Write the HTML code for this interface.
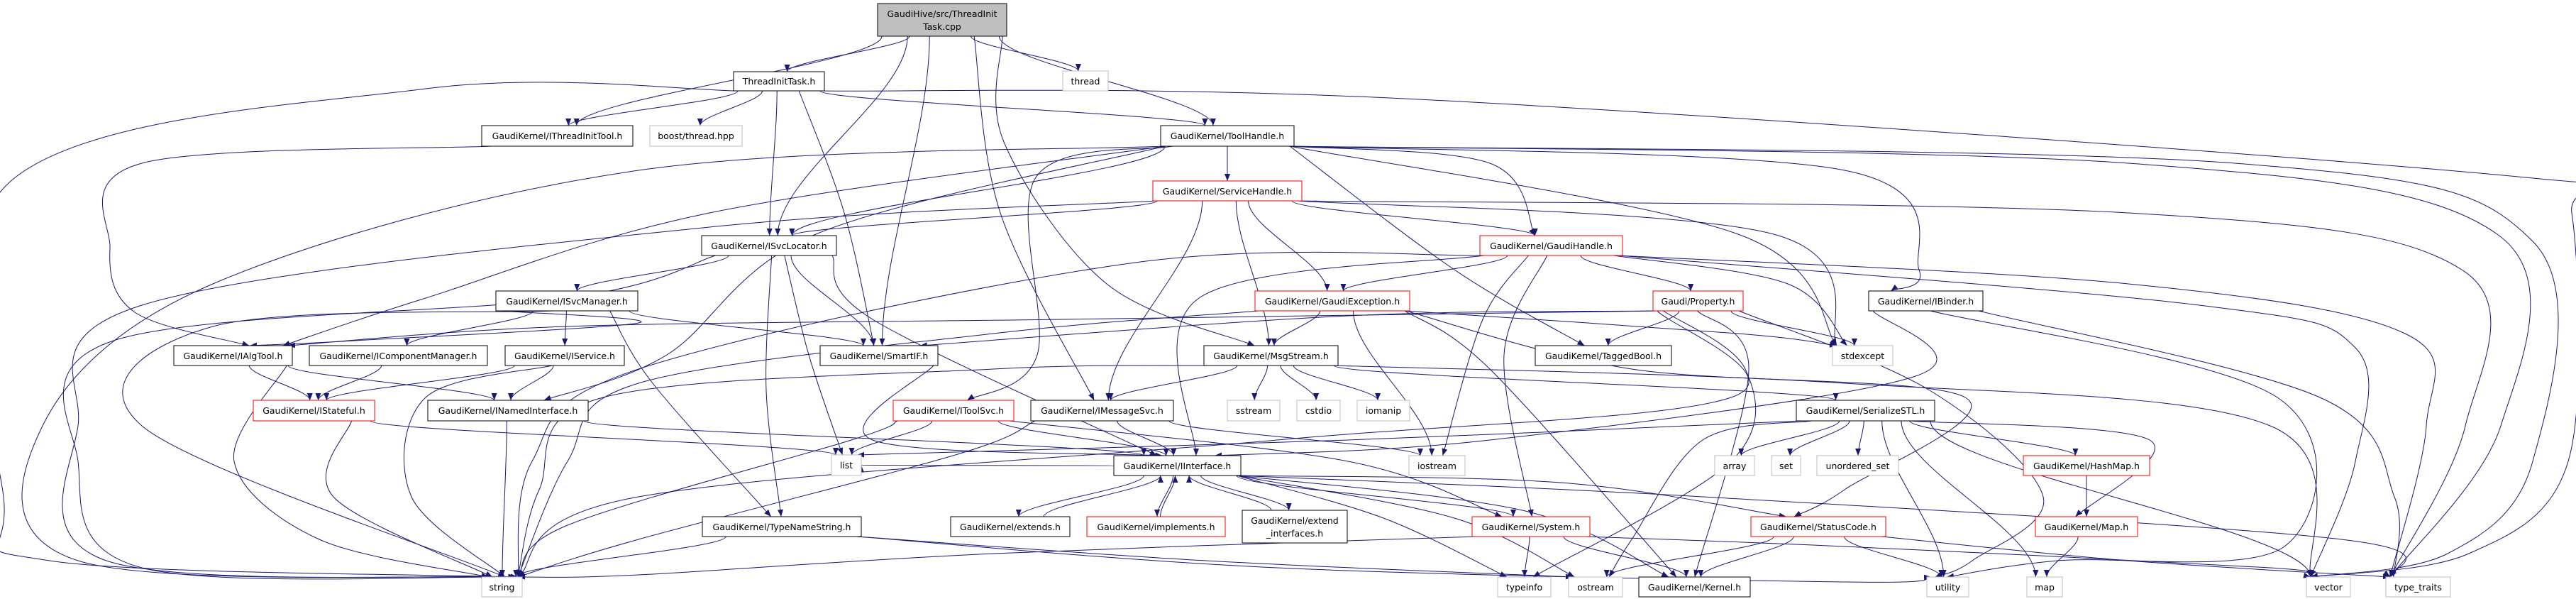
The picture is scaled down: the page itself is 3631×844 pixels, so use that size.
<!DOCTYPE html>
<html><head><meta charset="utf-8">
<style>
html,body{margin:0;padding:0;background:#fff;}
svg{display:block;}
text{font-family:"DejaVu Sans","Liberation Sans",sans-serif;font-size:12.5px;fill:#000;}
</style></head>
<body>
<svg id="g" width="3631" height="844" viewBox="0 0 3631 844" xmlns="http://www.w3.org/2000/svg">
<defs><marker id="ar" markerUnits="userSpaceOnUse" markerWidth="11" markerHeight="8" refX="10" refY="4" orient="auto"><path d="M0,0 L10,4 L0,8 z" fill="#191970"/></marker></defs>
<g id="edges" fill="none" stroke="#191970" stroke-width="1"></g>
<g id="nodes">
<rect x="1237" y="5" width="182" height="46" fill="#bfbfbf" stroke="#000"/><text x="1328" y="24" text-anchor="middle">GaudiHive/src/ThreadInit</text><text x="1328" y="42" text-anchor="middle">Task.cpp</text>
<rect x="1498" y="100" width="64" height="28" fill="#fff" stroke="#bfbfbf"/><text x="1530" y="119" text-anchor="middle">thread</text>
<rect x="1034" y="101" width="128" height="27" fill="#fff" stroke="#000"/><text x="1098" y="119" text-anchor="middle">ThreadInitTask.h</text>
<rect x="679" y="177" width="213" height="29" fill="#fff" stroke="#000"/><text x="785.5" y="196" text-anchor="middle">GaudiKernel/IThreadInitTool.h</text>
<rect x="916" y="177" width="130" height="29" fill="#fff" stroke="#bfbfbf"/><text x="981" y="196" text-anchor="middle">boost/thread.hpp</text>
<rect x="1636" y="177" width="188" height="29" fill="#fff" stroke="#000"/><text x="1730" y="196" text-anchor="middle">GaudiKernel/ToolHandle.h</text>
<rect x="1625" y="255" width="210" height="28" fill="#fff" stroke="#f00"/><text x="1730" y="274" text-anchor="middle">GaudiKernel/ServiceHandle.h</text>
<rect x="989" y="332" width="190" height="28" fill="#fff" stroke="#000"/><text x="1084" y="351" text-anchor="middle">GaudiKernel/ISvcLocator.h</text>
<rect x="2086" y="332" width="201" height="28" fill="#fff" stroke="#f00"/><text x="2186.5" y="351" text-anchor="middle">GaudiKernel/GaudiHandle.h</text>
<rect x="699" y="410" width="200" height="28" fill="#fff" stroke="#000"/><text x="799" y="429" text-anchor="middle">GaudiKernel/ISvcManager.h</text>
<rect x="1769" y="410" width="218" height="28" fill="#fff" stroke="#f00"/><text x="1878" y="429" text-anchor="middle">GaudiKernel/GaudiException.h</text>
<rect x="2330" y="410" width="127" height="28" fill="#fff" stroke="#f00"/><text x="2393.5" y="429" text-anchor="middle">Gaudi/Property.h</text>
<rect x="2634" y="410" width="161" height="28" fill="#fff" stroke="#000"/><text x="2714.5" y="429" text-anchor="middle">GaudiKernel/IBinder.h</text>
<rect x="245" y="487" width="167" height="28" fill="#fff" stroke="#000"/><text x="328.5" y="506" text-anchor="middle">GaudiKernel/IAlgTool.h</text>
<rect x="436" y="487" width="251" height="28" fill="#fff" stroke="#000"/><text x="561.5" y="506" text-anchor="middle">GaudiKernel/IComponentManager.h</text>
<rect x="712" y="487" width="168" height="28" fill="#fff" stroke="#000"/><text x="796" y="506" text-anchor="middle">GaudiKernel/IService.h</text>
<rect x="1156" y="487" width="166" height="28" fill="#fff" stroke="#000"/><text x="1239" y="506" text-anchor="middle">GaudiKernel/SmartIF.h</text>
<rect x="1697" y="487" width="189" height="28" fill="#fff" stroke="#000"/><text x="1791.5" y="506" text-anchor="middle">GaudiKernel/MsgStream.h</text>
<rect x="2164" y="487" width="192" height="28" fill="#fff" stroke="#000"/><text x="2260" y="506" text-anchor="middle">GaudiKernel/TaggedBool.h</text>
<rect x="2583" y="487" width="85" height="28" fill="#fff" stroke="#bfbfbf"/><text x="2625.5" y="506" text-anchor="middle">stdexcept</text>
<rect x="357" y="564" width="171" height="29" fill="#fff" stroke="#f00"/><text x="442.5" y="583" text-anchor="middle">GaudiKernel/IStateful.h</text>
<rect x="603" y="564" width="226" height="29" fill="#fff" stroke="#000"/><text x="716" y="583" text-anchor="middle">GaudiKernel/INamedInterface.h</text>
<rect x="1259" y="564" width="170" height="29" fill="#fff" stroke="#f00"/><text x="1344" y="583" text-anchor="middle">GaudiKernel/IToolSvc.h</text>
<rect x="1453" y="564" width="201" height="29" fill="#fff" stroke="#000"/><text x="1553.5" y="583" text-anchor="middle">GaudiKernel/IMessageSvc.h</text>
<rect x="1730" y="564" width="74" height="29" fill="#fff" stroke="#bfbfbf"/><text x="1767" y="583" text-anchor="middle">sstream</text>
<rect x="1828" y="564" width="61" height="29" fill="#fff" stroke="#bfbfbf"/><text x="1858.5" y="583" text-anchor="middle">cstdio</text>
<rect x="1913" y="564" width="74" height="29" fill="#fff" stroke="#bfbfbf"/><text x="1950" y="583" text-anchor="middle">iomanip</text>
<rect x="2532" y="564" width="195" height="29" fill="#fff" stroke="#000"/><text x="2629.5" y="583" text-anchor="middle">GaudiKernel/SerializeSTL.h</text>
<rect x="1172" y="641" width="42" height="29" fill="#fff" stroke="#bfbfbf"/><text x="1193" y="660" text-anchor="middle">list</text>
<rect x="1570" y="642" width="179" height="28" fill="#fff" stroke="#000"/><text x="1659.5" y="661" text-anchor="middle">GaudiKernel/IInterface.h</text>
<rect x="1986" y="642" width="79" height="28" fill="#fff" stroke="#bfbfbf"/><text x="2025.5" y="661" text-anchor="middle">iostream</text>
<rect x="2417" y="642" width="56" height="28" fill="#fff" stroke="#bfbfbf"/><text x="2445" y="661" text-anchor="middle">array</text>
<rect x="2497" y="642" width="41" height="28" fill="#fff" stroke="#bfbfbf"/><text x="2517.5" y="661" text-anchor="middle">set</text>
<rect x="2561" y="642" width="115" height="28" fill="#fff" stroke="#bfbfbf"/><text x="2618.5" y="661" text-anchor="middle">unordered_set</text>
<rect x="2852" y="642" width="178" height="28" fill="#fff" stroke="#f00"/><text x="2941" y="661" text-anchor="middle">GaudiKernel/HashMap.h</text>
<rect x="990" y="728" width="224" height="28" fill="#fff" stroke="#000"/><text x="1102" y="747" text-anchor="middle">GaudiKernel/TypeNameString.h</text>
<rect x="1340" y="728" width="168" height="28" fill="#fff" stroke="#000"/><text x="1424" y="747" text-anchor="middle">GaudiKernel/extends.h</text>
<rect x="1532" y="728" width="195" height="28" fill="#fff" stroke="#f00"/><text x="1629.5" y="747" text-anchor="middle">GaudiKernel/implements.h</text>
<rect x="1751" y="719" width="148" height="46" fill="#fff" stroke="#000"/><text x="1825" y="738" text-anchor="middle">GaudiKernel/extend</text><text x="1825" y="756" text-anchor="middle">_interfaces.h</text>
<rect x="2075" y="728" width="166" height="28" fill="#fff" stroke="#f00"/><text x="2158" y="747" text-anchor="middle">GaudiKernel/System.h</text>
<rect x="2468" y="728" width="190" height="28" fill="#fff" stroke="#f00"/><text x="2563" y="747" text-anchor="middle">GaudiKernel/StatusCode.h</text>
<rect x="2869" y="728" width="144" height="28" fill="#fff" stroke="#f00"/><text x="2941" y="747" text-anchor="middle">GaudiKernel/Map.h</text>
<rect x="679" y="813" width="57" height="28" fill="#fff" stroke="#bfbfbf"/><text x="707.5" y="832" text-anchor="middle">string</text>
<rect x="2111" y="813" width="75" height="28" fill="#fff" stroke="#bfbfbf"/><text x="2148.5" y="832" text-anchor="middle">typeinfo</text>
<rect x="2211" y="813" width="76" height="28" fill="#fff" stroke="#bfbfbf"/><text x="2249" y="832" text-anchor="middle">ostream</text>
<rect x="2310" y="813" width="157" height="28" fill="#fff" stroke="#000"/><text x="2388.5" y="832" text-anchor="middle">GaudiKernel/Kernel.h</text>
<rect x="2716" y="813" width="59" height="28" fill="#fff" stroke="#bfbfbf"/><text x="2745.5" y="832" text-anchor="middle">utility</text>
<rect x="2857" y="813" width="50" height="28" fill="#fff" stroke="#bfbfbf"/><text x="2882" y="832" text-anchor="middle">map</text>
<rect x="3251" y="813" width="62" height="28" fill="#fff" stroke="#bfbfbf"/><text x="3282" y="832" text-anchor="middle">vector</text>
<rect x="3363" y="813" width="91" height="28" fill="#fff" stroke="#bfbfbf"/><text x="3408.5" y="832" text-anchor="middle">type_traits</text>
</g>
</svg>
<script>
var N={main:[1237,5,1419,51],thread:[1498,100,1562,128],TIT:[1034,101,1162,128],ITIT:[679,177,892,206],boost:[916,177,1046,206],
TH:[1636,177,1824,206],SH:[1625,255,1835,283],SL:[989,332,1179,360],GH:[2086,332,2287,360],SM:[699,410,899,438],GE:[1769,410,1987,438],
PR:[2330,410,2457,438],IB:[2634,410,2795,438],AT:[245,487,412,515],CM:[436,487,687,515],IS:[712,487,880,515],SI:[1156,487,1322,515],
MS:[1697,487,1886,515],TB:[2164,487,2356,515],SE:[2583,487,2668,515],ST:[357,564,528,593],NI:[603,564,829,593],TS:[1259,564,1429,593],
MSV:[1453,564,1654,593],ss:[1730,564,1804,593],cs:[1828,564,1889,593],io:[1913,564,1987,593],SER:[2532,564,2727,593],list:[1172,641,1214,670],
II:[1570,642,1749,670],ios:[1986,642,2065,670],arr:[2417,642,2473,670],set:[2497,642,2538,670],us:[2561,642,2676,670],HM:[2852,642,3030,670],
TN:[990,728,1214,756],EX:[1340,728,1508,756],IM:[1532,728,1727,756],EI:[1751,719,1899,765],SY:[2075,728,2241,756],SC:[2468,728,2658,756],
MP:[2869,728,3013,756],str:[679,813,736,841],ti:[2111,813,2186,841],os:[2211,813,2287,841],KE:[2310,813,2467,841],ut:[2716,813,2775,841],
map:[2857,813,2907,841],vec:[3251,813,3313,841],tt:[3363,813,3454,841]};
var E=[
['main','thread'],['main','TIT'],['main','ITIT'],['main','TH'],['main','SL'],['main','SI'],['main','MSV',[[1410,300]]],['main','MS',[[1415,200],[1560,400]]],
['TIT','str',[[600,125],[10,260],[5,700],[70,790]]],['TIT','ITIT'],['TIT','boost'],['TIT','SL'],['TIT','SI',[[1190,300]]],['TIT','TH'],
['TIT','vec',[[2000,140],[3560,250],[3625,300],[3620,650],[3480,780]]],
['ITIT','AT',[[200,230],[155,350],[190,440]]],
['TH','SH'],['TH','GH',[[2100,230]]],['TH','AT',[[1000,300],[600,420]]],['TH','SL'],['TH','NI',[[1150,330],[940,500]]],
['TH','str',[[900,240],[300,400],[60,600],[110,790]]],['TH','TS',[[1460,250],[1462,500]]],['TH','IB',[[2600,240],[2705,380]]],
['TH','TB',[[2050,380]]],['TH','SE',[[2450,330]]],['TH','vec',[[3150,230],[3570,340],[3570,650],[3450,780]]],['TH','tt',[[3000,230],[3520,330],[3525,600]]],
['SH','SL'],['SH','GH'],['SH','GE'],['SH','MS'],['SH','MSV'],['SH','str',[[1000,320],[200,430],[110,600],[150,790]]],['SH','SE',[[2500,330]]],['SH','tt',[[3000,300],[3470,380],[3475,600]]],
['GH','GE'],['GH','PR'],['GH','II',[[1690,420]]],['GH','SY',[[2120,500]]],['GH','ios',[[2090,450]]],['GH','str',[[1600,370],[900,520],[750,650]]],['GH','SE',[[2520,400]]],
['GH','vec',[[3100,430],[3320,490],[3320,650]]],['GH','tt',[[3000,400],[3390,470],[3420,600]]],
['GE','MS'],['GE','str',[[1400,470],[900,540],[800,650]]],['GE','ios'],['GE','SC',[[2300,520],[2770,560],[2600,690]]],['GE','KE',[[2100,520]]],['GE','SE',[[2450,470]]],
['PR','SI',[[1900,445]]],['PR','AT',[[1500,450],[800,460]]],['PR','TB'],['PR','SE'],['PR','str',[[2440,560],[1800,620],[900,700]]],['PR','KE',[[2465,520]]],['PR','ti',[[2460,520],[2440,650]]],['PR','ut',[[2720,550],[2880,700],[2780,790]]],
['IB','II',[[2700,530],[2100,620]]],['IB','ut',[[3210,560],[3220,770],[2900,790]]],['IB','tt',[[3270,560],[3375,700]]],
['SL','SM'],['SL','str',[[800,420],[160,480],[110,650],[200,800]]],['SL','SI'],['SL','list',[[1140,500]]],['SL','TN',[[1080,550]]],['SL','II',[[1230,450]]],
['SM','CM'],['SM','IS'],['SM','str',[[300,460],[200,600]]],['SM','SI'],['SM','TN',[[920,540]]],['SM','AT',[[900,455],[500,480]]],
['IS','ST'],['IS','NI'],['IS','str',[[600,560],[580,700]]],
['AT','ST'],['AT','NI'],['AT','str',[[330,650],[450,760]]],
['CM','ST'],
['ST','list'],['ST','str',[[470,700]]],
['NI','str'],['NI','II'],
['SI','II',[[1230,620]]],
['MS','MSV'],['MS','ss'],['MS','cs'],['MS','io'],['MS','SER'],['MS','str',[[1400,520],[850,560],[760,690]]],['MS','vec',[[2600,540],[3200,600]]],
['MSV','II'],['MSV','str',[[1350,640],[900,760]]],['MSV','ios'],
['TS','II'],['TS','list'],['TS','str',[[1200,620],[800,740]]],['TS','SY',[[1900,650]]],
['II','EX'],['EX','II'],['II','IM'],['IM','II'],['II','EI'],['EI','II'],['II','SY'],['II','SC',[[2200,680]]],['II','ti',[[1950,730]]],['II','os',[[2050,730]]],['II','KE',[[2150,720]]],['II','tt',[[2400,700],[3300,760]]],['II','list'],
['SY','KE'],['SY','ti'],['SY','str',[[1400,780],[900,810]]],['SY','vec',[[2600,770],[3200,800]]],
['SC','KE'],['SC','os'],['SC','ut'],['SC','tt',[[3000,790]]],
['TN','str'],['TN','os',[[1700,790]]],['TN','ut',[[1800,800],[2600,820]]],
['SER','arr'],['SER','set'],['SER','us'],['SER','HM'],['SER','MP',[[3030,620]]],['SER','ut'],['SER','map'],['SER','vec'],['SER','os',[[2400,620],[2300,760]]],['SER','list',[[1900,620]]],
['HM','MP'],['MP','map']
];
var g=document.getElementById('edges');
function cl(v,a,b){return Math.max(a,Math.min(b,v));}
function pts(a,b){var s=N[a],t=N[b];var scx=(s[0]+s[2])/2,tcx=(t[0]+t[2])/2;
 if(t[1]>=s[3]+5){return [[cl(scx+(tcx-scx)*0.2,s[0]+6,s[2]-6),s[3]],[cl(tcx+(scx-tcx)*0.05,t[0]+6,t[2]-6),t[1]]];}
 if(t[3]<=s[1]-5){return [[cl(scx+(tcx-scx)*0.2,s[0]+6,s[2]-6),s[1]],[cl(tcx+(scx-tcx)*0.1,t[0]+6,t[2]-6),t[3]]];}
 var sy=(s[1]+s[3])/2,ty=(t[1]+t[3])/2;
 if(tcx<scx)return [[s[0],sy],[t[2],ty]];return [[s[2],sy],[t[0],ty]];}
E.forEach(function(e){var p=pts(e[0],e[1]);var P=[p[0]].concat(e[2]||[]).concat([p[1]]);var d;
 if(P.length==2){var x0=P[0][0],y0=P[0][1],x1=P[1][0],y1=P[1][1],m=(y1-y0)/2;
  d='M'+x0+','+y0+' C'+x0+','+(y0+m*0.6)+' '+x1+','+(y1-m*0.6)+' '+x1+','+y1;}
 else{d='M'+P[0][0]+','+P[0][1];for(var i=0;i<P.length-1;i++){var p0=P[i-1]||P[i],p1=P[i],p2=P[i+1],p3=P[i+2]||P[i+1];
  var c1x=p1[0]+(p2[0]-p0[0])/6,c1y=p1[1]+(p2[1]-p0[1])/6,c2x=p2[0]-(p3[0]-p1[0])/6,c2y=p2[1]-(p3[1]-p1[1])/6;
  d+=' C'+c1x+','+c1y+' '+c2x+','+c2y+' '+p2[0]+','+p2[1];}}
 var el=document.createElementNS('http://www.w3.org/2000/svg','path');el.setAttribute('d',d);el.setAttribute('marker-end','url(#ar)');g.appendChild(el);});
</script>
</body></html>
